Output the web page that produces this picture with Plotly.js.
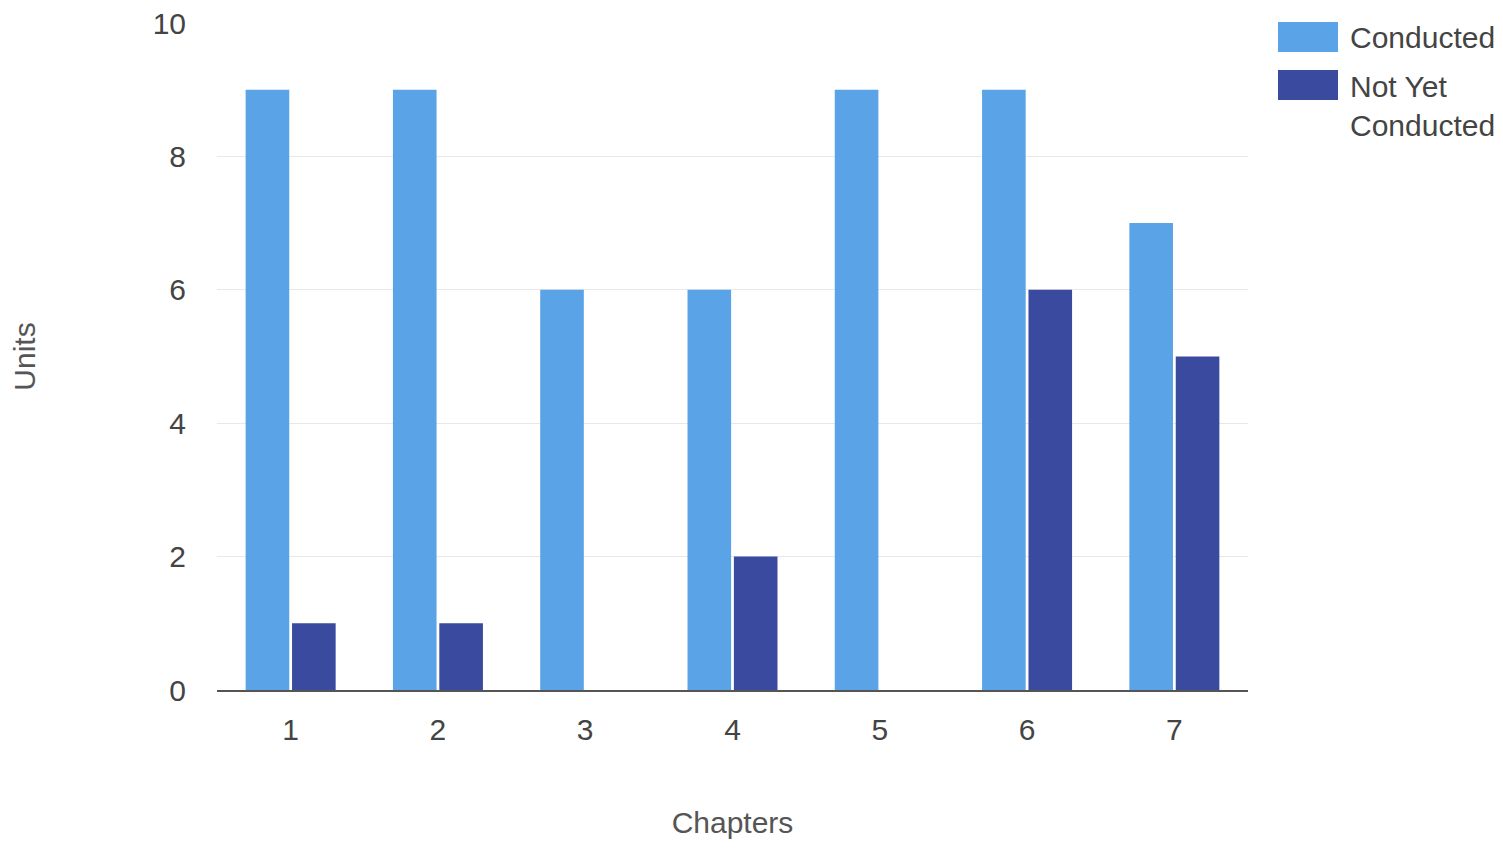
<!DOCTYPE html>
<html>
<head>
<meta charset="utf-8">
<script src="https://cdn.plot.ly/plotly-3.0.1.min.js"></script>
<style>html,body{margin:0;padding:0;background:#fff;}#chart{width:1503px;height:850px;}</style>
</head>
<body>
<div id="chart"></div>
<script>
const chapters = ["1", "2", "3", "4", "5", "6", "7"];
const conducted = [9, 9, 6, 6, 9, 9, 7];
const notYetConducted = [1, 1, 0, 2, 0, 6, 5];
const seriesNames = ["Conducted", "Not Yet<br>Conducted"];
const seriesColors = ["#5aa3e6", "#3a4a9f"];

const traces = [
  {type: "bar", x: chapters, y: conducted, name: seriesNames[0], marker: {color: seriesColors[0]}},
  {type: "bar", x: chapters, y: notYetConducted, name: seriesNames[1], marker: {color: seriesColors[1]}}
];

// custom legend with large swatches (as in the reference)
const legendShapes = [
  {type: "rect", xref: "paper", yref: "paper", x0: 1.0291, x1: 1.0873, y0: 0.9565, y1: 1.0015,
   fillcolor: seriesColors[0], line: {width: 0}},
  {type: "rect", xref: "paper", yref: "paper", x0: 1.0291, x1: 1.0873, y0: 0.8846, y1: 0.9295,
   fillcolor: seriesColors[1], line: {width: 0}}
];
const legendTexts = [
  {xref: "paper", yref: "paper", x: 1.0969, y: 0.979, xanchor: "left", yanchor: "middle",
   text: seriesNames[0], showarrow: false, align: "left", font: {size: 30, color: "#444"}},
  {xref: "paper", yref: "paper", x: 1.0969, y: 0.8749, xanchor: "left", yanchor: "middle",
   text: seriesNames[1], showarrow: false, align: "left", font: {size: 30, color: "#444"}}
];

const layout = {
  width: 1503, height: 850,
  margin: {l: 217, r: 255, t: 23, b: 160},
  paper_bgcolor: "#fff", plot_bgcolor: "#fff",
  font: {family: "Liberation Sans, Arial, sans-serif", size: 30, color: "#444"},
  barmode: "group", bargap: 0.37, bargroupgap: 0.06,
  xaxis: {
    type: "category", range: [-0.5, 6.5], automargin: false,
    showgrid: false, showline: true, linecolor: "#555", linewidth: 1.5,
    ticks: "", ticklabelstandoff: 12,
    tickfont: {size: 30, color: "#444"},
    title: {text: "Chapters", font: {size: 30, color: "#555"}, standoff: 67}
  },
  yaxis: {
    range: [0, 10], dtick: 2, automargin: false,
    showgrid: true, gridcolor: "#e8e8e8", gridwidth: 1,
    zeroline: false, showline: false, ticks: "", ticklabelstandoff: 30,
    tickfont: {size: 30, color: "#444"},
    title: {text: "Units", font: {size: 30, color: "#555"}, standoff: 108}
  },
  shapes: legendShapes,
  annotations: legendTexts,
  showlegend: false
};

Plotly.newPlot("chart", traces, layout, {displayModeBar: false, staticPlot: true});
</script>
</body>
</html>
